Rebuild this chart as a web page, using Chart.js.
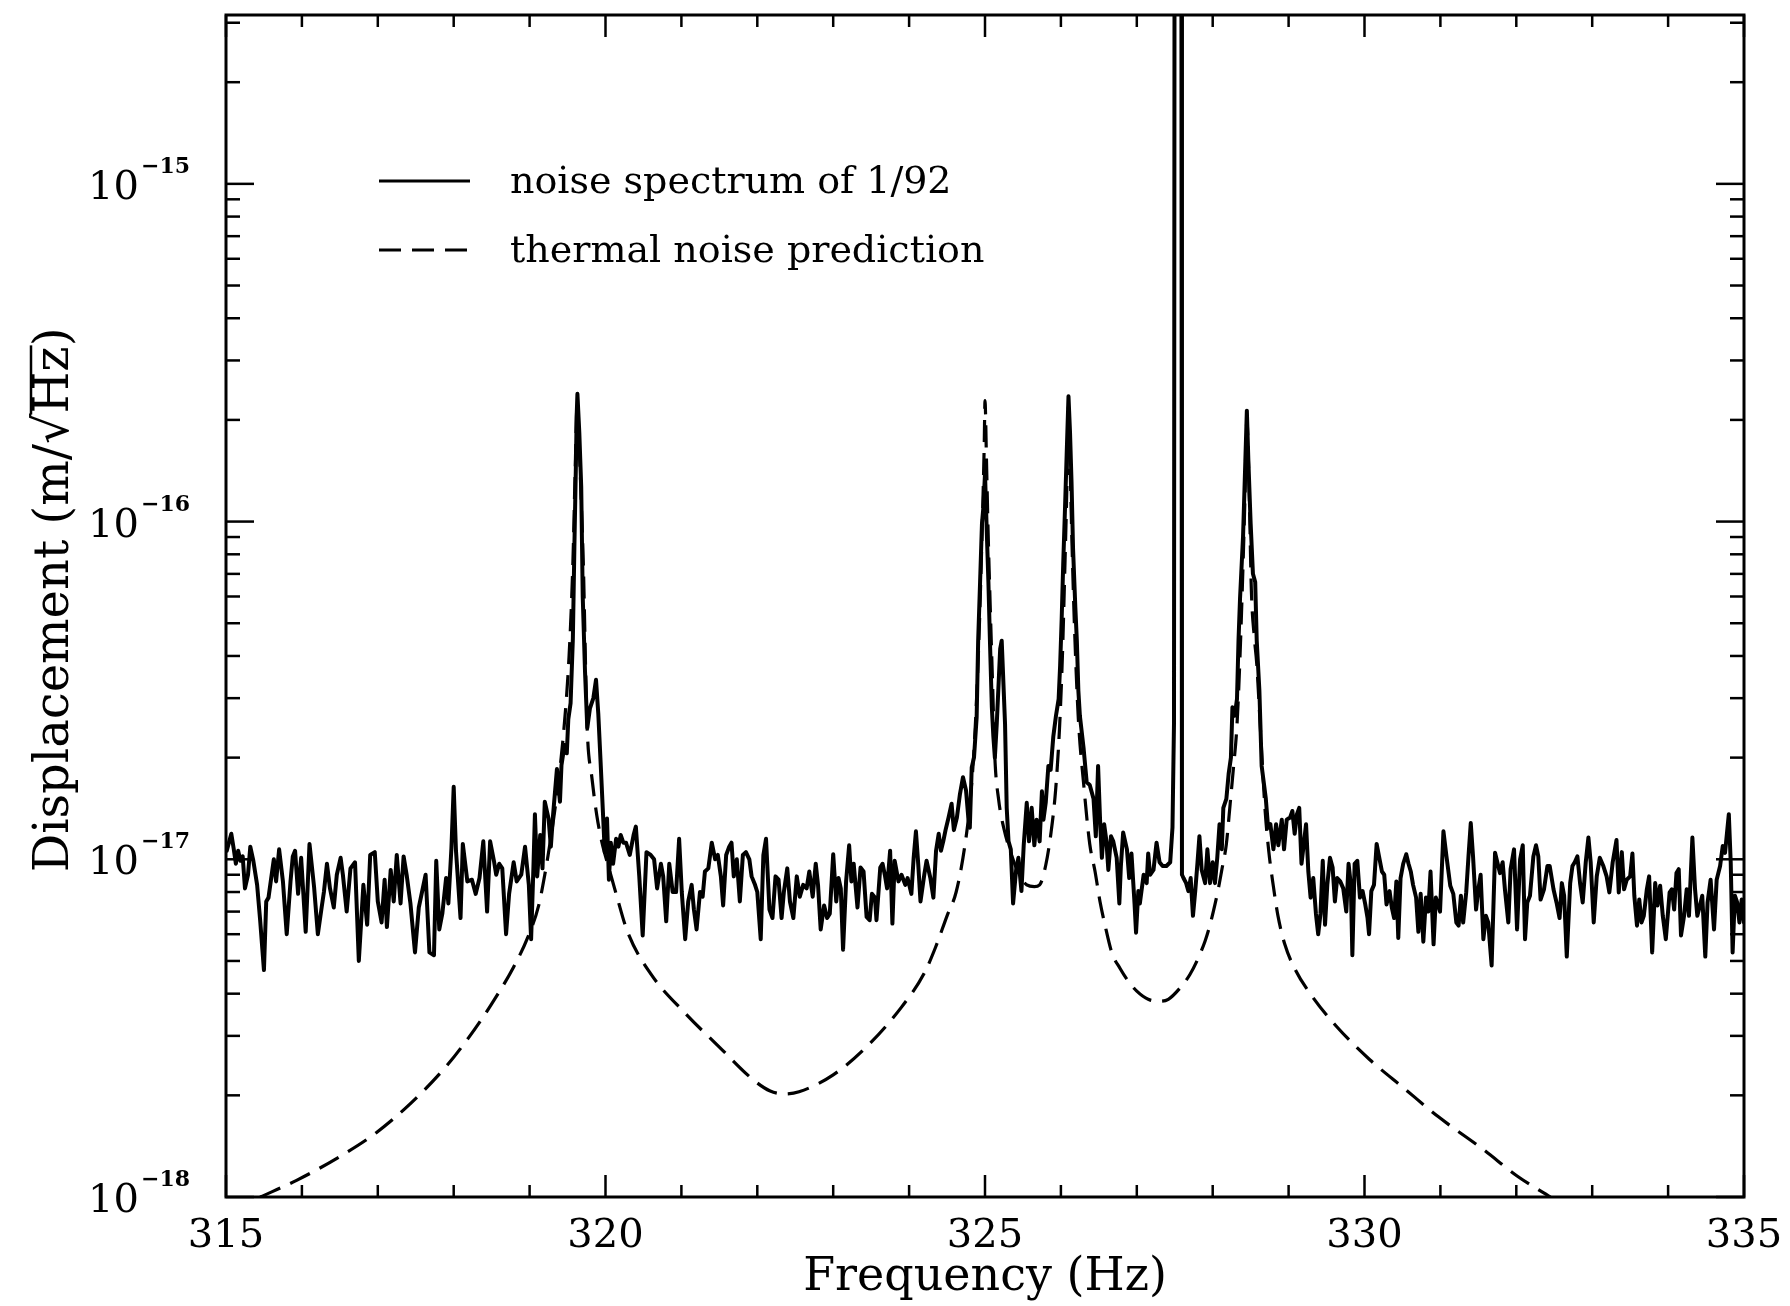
<!DOCTYPE html>
<html>
<head>
<meta charset="utf-8">
<title>Noise spectrum vs thermal noise prediction</title>
<script src="https://cdn.jsdelivr.net/npm/chart.js@4.4.0/dist/chart.umd.min.js"></script>
<style>
  html, body { margin: 0; padding: 0; background: #fff; }
  #wrap { width: 1790px; height: 1306px; }
</style>
</head>
<body>
<div id="wrap"><canvas id="spectrumChart" width="1790" height="1306"></canvas></div>
<script>
// amplitudes are stored in units of 1e-18 m/sqrt(Hz)
const AMP_UNIT = 1e-18;

// measured noise spectrum (solid line)
const noiseFreq = [
  315.00, 315.01, 315.07, 315.10, 315.13, 315.16, 315.19, 315.22, 315.25, 315.29,
  315.32, 315.36, 315.41, 315.45, 315.50, 315.53, 315.56, 315.63, 315.66, 315.70,
  315.75, 315.80, 315.85, 315.88, 315.91, 315.95, 315.99, 316.05, 316.10, 316.16,
  316.21, 316.26, 316.29, 316.33, 316.37, 316.42, 316.46, 316.51, 316.54, 316.59,
  316.64, 316.70, 316.75, 316.81, 316.86, 316.90, 316.96, 317.00, 317.05, 317.09,
  317.12, 317.17, 317.21, 317.25, 317.30, 317.34, 317.38, 317.43, 317.49, 317.54,
  317.63, 317.68, 317.74, 317.77, 317.81, 317.85, 317.90, 317.93, 317.97, 318.00,
  318.03, 318.09, 318.12, 318.18, 318.24, 318.29, 318.34, 318.39, 318.44, 318.48,
  318.53, 318.56, 318.60, 318.64, 318.69, 318.73, 318.79, 318.83, 318.89, 318.94,
  318.99, 319.02, 319.05, 319.07, 319.10, 319.14, 319.17, 319.20, 319.25, 319.28,
  319.31, 319.36, 319.40, 319.42, 319.46, 319.49, 319.51, 319.54, 319.57, 319.59,
  319.61, 319.62, 319.63, 319.655, 319.68, 319.70, 319.73, 319.76, 319.795, 319.84,
  319.875, 319.905, 319.935, 319.97, 319.99, 320.02, 320.045, 320.07, 320.10, 320.14,
  320.17, 320.20, 320.235, 320.27, 320.32, 320.37, 320.40, 320.445, 320.49, 320.54,
  320.595, 320.64, 320.68, 320.73, 320.76, 320.80, 320.84, 320.885, 320.93, 320.97,
  321.005, 321.05, 321.09, 321.135, 321.165, 321.20, 321.245, 321.28, 321.31, 321.355,
  321.40, 321.445, 321.48, 321.52, 321.55, 321.59, 321.63, 321.66, 321.69, 321.73,
  321.77, 321.81, 321.85, 321.895, 321.925, 321.97, 322.00, 322.045, 322.08, 322.115,
  322.16, 322.20, 322.24, 322.28, 322.32, 322.35, 322.395, 322.43, 322.475, 322.52,
  322.56, 322.605, 322.65, 322.685, 322.73, 322.77, 322.80, 322.835, 322.88, 322.92,
  322.955, 323.00, 323.04, 323.07, 323.10, 323.13, 323.17, 323.21, 323.24, 323.27,
  323.32, 323.36, 323.40, 323.44, 323.48, 323.51, 323.55, 323.57, 323.62, 323.65,
  323.68, 323.71, 323.75, 323.78, 323.81, 323.86, 323.90, 323.95, 323.98, 324.03,
  324.06, 324.09, 324.12, 324.15, 324.20, 324.23, 324.28, 324.32, 324.355, 324.39,
  324.42, 324.45, 324.48, 324.52, 324.56, 324.59, 324.63, 324.67, 324.71, 324.75,
  324.78, 324.80, 324.825, 324.855, 324.89, 324.91, 324.935, 324.96, 324.98, 325.00,
  325.02, 325.045, 325.065, 325.09, 325.11, 325.13, 325.155, 325.18, 325.20, 325.22,
  325.24, 325.264, 325.286, 325.31, 325.34, 325.37, 325.41, 325.44, 325.48, 325.51,
  325.55, 325.58, 325.615, 325.65, 325.68, 325.72, 325.75, 325.77, 325.80, 325.835,
  325.865, 325.90, 325.935, 325.97, 325.99, 326.01, 326.03, 326.055, 326.08, 326.10,
  326.12, 326.14, 326.16, 326.19, 326.21, 326.23, 326.25, 326.30, 326.34, 326.38,
  326.43, 326.46, 326.49, 326.52, 326.54, 326.57, 326.60, 326.625, 326.66, 326.69,
  326.735, 326.77, 326.79, 326.82, 326.87, 326.90, 326.93, 326.97, 326.99, 327.02,
  327.04, 327.09, 327.13, 327.15, 327.175, 327.22, 327.26, 327.30, 327.34, 327.39,
  327.44, 327.47, 327.49, 327.50, 327.585, 327.595, 327.615, 327.65, 327.68, 327.71,
  327.74, 327.77, 327.80, 327.825, 327.855, 327.90, 327.93, 327.965, 328.00, 328.03,
  328.06, 328.09, 328.12, 328.14, 328.18, 328.21, 328.24, 328.26, 328.29, 328.32,
  328.34, 328.36, 328.40, 328.43, 328.45, 328.47, 328.50, 328.53, 328.56, 328.58,
  328.615, 328.645, 328.68, 328.70, 328.73, 328.76, 328.80, 328.835, 328.865, 328.91,
  328.94, 328.975, 329.02, 329.05, 329.08, 329.11, 329.14, 329.17, 329.20, 329.23,
  329.26, 329.29, 329.325, 329.36, 329.39, 329.42, 329.45, 329.48, 329.51, 329.545,
  329.58, 329.61, 329.64, 329.68, 329.72, 329.76, 329.79, 329.82, 329.84, 329.87,
  329.905, 329.94, 329.975, 330.01, 330.04, 330.06, 330.09, 330.125, 330.16, 330.195,
  330.23, 330.26, 330.29, 330.33, 330.36, 330.39, 330.42, 330.445, 330.475, 330.51,
  330.55, 330.58, 330.61, 330.64, 330.68, 330.71, 330.74, 330.775, 330.81, 330.84,
  330.87, 330.91, 330.94, 330.97, 330.995, 331.04, 331.08, 331.13, 331.17, 331.21,
  331.24, 331.27, 331.30, 331.34, 331.37, 331.40, 331.43, 331.47, 331.50, 331.53,
  331.566, 331.60, 331.63, 331.675, 331.72, 331.75, 331.785, 331.82, 331.85, 331.895,
  331.925, 331.97, 332.01, 332.05, 332.085, 332.115, 332.145, 332.18, 332.225, 332.26,
  332.29, 332.32, 332.365, 332.41, 332.44, 332.49, 332.53, 332.57, 332.60, 332.63,
  332.665, 332.71, 332.74, 332.77, 332.805, 332.84, 332.875, 332.915, 332.95, 332.98,
  333.02, 333.06, 333.10, 333.147, 333.19, 333.226, 333.27, 333.32, 333.35, 333.39,
  333.42, 333.455, 333.50, 333.53, 333.555, 333.59, 333.62, 333.65, 333.68, 333.72,
  333.75, 333.79, 333.83, 333.86, 333.895, 333.93, 333.97, 334.02, 334.05, 334.08,
  334.11, 334.14, 334.17, 334.21, 334.245, 334.275, 334.32, 334.355, 334.385, 334.42,
  334.45, 334.49, 334.52, 334.56, 334.605, 334.64, 334.685, 334.72, 334.75, 334.80,
  334.825, 334.85, 334.88, 334.91, 334.94, 334.97, 335.00
];
const noiseAmp = [
  11.1, 10.6, 11.9, 10.8, 9.7, 10.6, 9.9, 10.2, 8.2, 9.0,
  10.9, 9.9, 8.4, 6.6, 4.7, 7.5, 7.7, 10.0, 8.6, 10.7,
  8.6, 6.0, 8.6, 10.2, 10.6, 7.9, 10.1, 6.1, 11.1, 8.3,
  6.0, 7.2, 8.0, 9.7, 8.2, 7.2, 9.0, 10.1, 9.0, 7.0,
  9.4, 9.8, 5.0, 8.4, 6.4, 10.3, 10.5, 7.5, 6.5, 8.7,
  6.3, 9.3, 7.5, 10.3, 7.4, 10.2, 9.0, 7.4, 5.3, 7.2,
  9.0, 5.3, 5.2, 9.9, 6.2, 6.9, 8.8, 7.4, 10.8, 16.4,
  10.6, 6.7, 11.1, 8.6, 8.7, 7.9, 8.8, 11.3, 7.0, 11.3,
  9.9, 9.0, 9.7, 9.4, 6.0, 7.9, 9.8, 8.6, 9.0, 10.9,
  8.4, 5.8, 9.4, 13.6, 8.9, 11.8, 9.4, 14.8, 13.2, 10.9,
  13.6, 18.5, 14.8, 19.0, 21.8, 20.6, 26, 29, 45, 84,
  147, 205, 239, 183, 127, 60, 36, 24.5, 28, 30,
  34, 27, 19.5, 13.2, 10.5, 13.2, 8.7, 11.2, 9.7, 11.5,
  10.9, 11.8, 11.2, 11.2, 10.3, 11.8, 12.5, 8.9, 5.95, 10.5,
  10.3, 10.0, 8.2, 9.7, 8.9, 6.55, 9.7, 8.0, 8.0, 11.5,
  8.0, 5.8, 7.5, 8.4, 7.1, 6.2, 8.0, 7.75, 9.2, 9.4,
  11.2, 10.0, 10.3, 8.9, 7.3, 10.3, 10.9, 11.2, 8.9, 10.0,
  7.5, 10.3, 10.5, 10.0, 8.9, 8.4, 8.0, 5.8, 10.3, 11.5,
  7.1, 6.7, 8.9, 8.7, 6.7, 8.0, 9.4, 7.5, 6.7, 8.9,
  7.75, 8.4, 8.2, 9.2, 7.75, 9.7, 8.4, 6.2, 7.3, 6.7,
  6.9, 10.35, 7.5, 8.8, 8.2, 5.4, 8.6, 11.0, 8.6, 9.7,
  7.2, 9.45, 9.2, 6.75, 6.6, 7.9, 7.7, 6.6, 9.45, 9.7,
  9.0, 8.2, 10.6, 6.45, 9.9, 8.6, 9.0, 8.4, 8.8, 7.9,
  10.1, 12.1, 9.7, 7.5, 9.0, 9.9, 8.8, 7.7, 10.6, 11.9,
  10.6, 11.3, 12.2, 13.3, 14.6, 12.2, 13.3, 15.6, 17.5, 16.0,
  13.3, 12.4, 18.7, 20.0, 26.3, 44.4, 66, 98.6, 111, 139,
  98.6, 66.2, 44.4, 28.2, 23.1, 20.0, 25.2, 33.4, 42.0, 44.4,
  34.4, 25.2, 14.2, 11.3, 10.7, 7.4, 9.3, 10.1, 8.05, 11.0,
  14.7, 11.3, 14.2, 11.0, 13.1, 11.3, 15.9, 13.1, 14.7, 18.9,
  18.4, 23.1, 26.6, 29.8, 37.5, 51.3, 74.2, 111, 169, 235,
  184, 131, 83.2, 55.8, 44.4, 31.6, 26.6, 21.2, 16.9, 16.6,
  15.1, 11.7, 18.9, 12.4, 10.1, 12.7, 11.3, 9.3, 11.7, 11.3,
  10.1, 7.4, 9.55, 12.0, 10.7, 8.8, 10.4, 7.4, 6.06, 8.05,
  7.4, 9.0, 8.5, 10.4, 9.0, 9.3, 11.2, 9.8, 9.55, 9.55,
  9.8, 12.4, 25.2, 40000, 40000, 9.0, 8.8, 8.5, 8.05, 8.8,
  6.8, 8.05, 9.8, 11.7, 9.3, 8.5, 10.7, 8.5, 9.8, 8.5,
  10.1, 12.7, 10.7, 14.2, 15.1, 17.9, 20.0, 28.2, 26.6, 29.8,
  44.4, 59.1, 90.6, 151, 213, 151, 98.6, 70.1, 66.2, 44.4,
  31.6, 18.9, 16.4, 15.1, 12.4, 12.7, 10.7, 12.7, 11.0, 13.1,
  10.7, 13.1, 13.3, 13.9, 11.9, 13.6, 14.2, 9.7, 11.1, 12.7,
  9.2, 7.7, 8.8, 6.9, 6.0, 6.9, 9.9, 6.4, 8.4, 10.1,
  9.45, 7.5, 8.8, 8.6, 8.2, 7.0, 9.7, 8.4, 5.2, 9.7,
  9.9, 7.7, 8.05, 7.35, 6.7, 6.0, 8.05, 8.4, 11.1, 10.1,
  9.2, 9.0, 7.35, 8.05, 7.2, 6.7, 8.6, 5.85, 8.8, 9.7,
  10.35, 9.7, 9.2, 8.4, 7.7, 6.1, 7.9, 5.7, 7.7, 7.0,
  9.2, 5.6, 7.7, 7.35, 7.0, 12.1, 10.2, 8.35, 7.9, 6.5,
  6.36, 7.8, 6.5, 7.98, 10.2, 12.8, 10.2, 7.1, 8.15, 9.0,
  5.8, 6.8, 6.5, 4.85, 10.45, 9.8, 9.1, 9.8, 8.15, 6.5,
  9.35, 10.7, 6.2, 10.0, 11.0, 5.8, 7.45, 7.8, 10.2, 11.0,
  10.2, 7.6, 8.15, 9.55, 9.55, 8.15, 7.45, 6.7, 8.5, 7.8,
  5.15, 8.5, 9.55, 9.8, 10.2, 8.5, 7.45, 9.8, 11.6, 9.8,
  6.5, 8.9, 10.1, 9.55, 8.9, 7.98, 9.8, 11.4, 7.98, 10.5,
  8.15, 8.7, 8.9, 10.4, 7.8, 6.36, 7.6, 6.5, 6.8, 8.15,
  8.9, 5.3, 8.5, 7.3, 8.35, 6.8, 5.8, 7.98, 8.15, 7.1,
  9.1, 9.35, 5.95, 6.8, 8.15, 6.8, 11.6, 8.15, 6.8, 7.3,
  7.8, 5.15, 7.45, 8.7, 6.2, 8.7, 9.55, 10.95, 10.45, 13.6,
  9.8, 5.3, 7.8, 7.45, 6.5, 7.6, 6.5
];

// thermal noise prediction (dashed line)
const thermalFreq = [
  315.45, 315.93, 316.53, 316.98, 317.44, 317.89, 318.19, 318.49, 318.79, 318.98,
  319.12, 319.20, 319.27, 319.35, 319.45, 319.52, 319.57, 319.60, 319.625, 319.65,
  319.68, 319.71, 319.74, 319.76, 319.82, 319.885, 319.95, 320.04, 320.14, 320.29,
  320.59, 321.05, 321.50, 321.95, 322.17, 322.36, 322.55, 323.00, 323.45, 323.90,
  324.20, 324.35, 324.50, 324.62, 324.73, 324.80, 324.86, 324.92, 324.96, 324.99,
  325.00, 325.02, 325.04, 325.07, 325.10, 325.13, 325.18, 325.25, 325.35, 325.45,
  325.55, 325.65, 325.72, 325.80, 325.87, 325.93, 325.98, 326.02, 326.05, 326.08,
  326.10, 326.12, 326.15, 326.18, 326.23, 326.30, 326.38, 326.45, 326.515, 326.58,
  326.67, 326.78, 326.89, 327.00, 327.15, 327.30, 327.415, 327.57, 327.70, 327.81,
  327.90, 327.965, 328.03, 328.075, 328.12, 328.18, 328.23, 328.27, 328.32, 328.36,
  328.40, 328.43, 328.45, 328.48, 328.51, 328.55, 328.58, 328.63, 328.69, 328.74,
  328.80, 328.86, 328.95, 329.09, 329.32, 329.62, 330.07, 330.52, 330.97, 331.57,
  332.02, 332.45
];
const thermalAmp = [
  1.0, 1.12, 1.33, 1.55, 1.9, 2.42, 2.95, 3.7, 4.8, 5.9,
  7.3, 9.0, 11.2, 15, 24, 40, 75, 140, 220, 175,
  115, 72, 35, 24, 17.5, 13.5, 11.3, 9.5, 7.9, 6.1,
  4.6, 3.5, 2.78, 2.22, 2.06, 2.02, 2.05, 2.3, 2.8, 3.65,
  4.6, 5.5, 6.8, 8.0, 10.8, 14.5, 22, 45, 90, 170,
  228, 150, 95, 55, 33, 20, 15, 12.3, 10.3, 9.0,
  8.4, 8.3, 8.4, 9.6, 12, 16, 24, 40, 70, 130,
  220, 150, 80, 48, 26, 16.7, 11.1, 9.2, 7.5, 6.4,
  5.3, 4.75, 4.35, 4.07, 3.85, 3.8, 3.85, 4.16, 4.56, 5.1,
  5.73, 6.4, 7.35, 8.2, 9.3, 11.1, 14.6, 18.3, 25, 40,
  75, 130, 200, 125, 62, 45, 38, 24, 14, 10.5,
  8.3, 6.8, 5.6, 4.7, 3.9, 3.22, 2.55, 2.1, 1.73, 1.38,
  1.15, 1.0
];

// axes
const X_MIN = 315;
const X_MAX = 335;
const xMajorTicks = [315, 320, 325, 330, 335];
const xTickLabels = ['315', '320', '325', '330', '335'];
const Y_MIN = 1e-18;
const Y_MAX = Math.pow(10, -14.5);
const yDecades = [-18, -17, -16, -15];
const yTickExponents = ['\u221218', '\u221217', '\u221216', '\u221215'];

const legendLabels = ['noise spectrum of 1/92', 'thermal noise prediction'];

const SERIF = '"DejaVu Serif", "Liberation Serif", serif';

function toPoints(freqs, amps) {
  return freqs.map((f, i) => ({ x: f, y: amps[i] * AMP_UNIT }));
}

function drawSegment(ctx, x1, y1, x2, y2) {
  ctx.beginPath();
  ctx.moveTo(x1, y1);
  ctx.lineTo(x2, y2);
  ctx.stroke();
}

// frame with inward ticks on all four sides, tick labels, titles and legend
const plotDecorations = {
  id: 'plotDecorations',
  afterDraw(chart) {
    const ctx = chart.ctx;
    const a = chart.chartArea;
    const xs = chart.scales.x;
    const ys = chart.scales.y;

    ctx.save();
    ctx.strokeStyle = '#000';
    ctx.fillStyle = '#000';

    ctx.lineWidth = 3;
    ctx.strokeRect(a.left, a.top, a.right - a.left, a.bottom - a.top);

    // x ticks every 1 Hz, longer every 5 Hz
    ctx.lineWidth = 2.5;
    for (let f = X_MIN; f <= X_MAX; f += 1) {
      const px = xs.getPixelForValue(f);
      const len = xMajorTicks.includes(f) ? 22 : 12;
      drawSegment(ctx, px, a.bottom, px, a.bottom - len);
      drawSegment(ctx, px, a.top, px, a.top + len);
    }

    // y ticks: decades long, 2..9 short
    yDecades.forEach(e => {
      for (let m = 1; m <= 9; m++) {
        const v = m * Math.pow(10, e);
        if (v > Y_MAX) break;
        const py = ys.getPixelForValue(v);
        const len = m === 1 ? 28 : 14;
        drawSegment(ctx, a.left, py, a.left + len, py);
        drawSegment(ctx, a.right, py, a.right - len, py);
      }
    });

    // x tick labels
    ctx.font = '40px ' + SERIF;
    ctx.textAlign = 'center';
    ctx.textBaseline = 'alphabetic';
    xMajorTicks.forEach((f, i) => {
      ctx.fillText(xTickLabels[i], xs.getPixelForValue(f), a.bottom + 50);
    });

    // y tick labels 10^-n
    ctx.textAlign = 'left';
    yDecades.forEach((e, i) => {
      const py = ys.getPixelForValue(Math.pow(10, e));
      const right = a.left - 36;
      ctx.font = 'bold 22px ' + SERIF;
      const wSup = ctx.measureText(yTickExponents[i]).width;
      ctx.fillText(yTickExponents[i], right - wSup, py - 11);
      ctx.font = '40px ' + SERIF;
      const wBase = ctx.measureText('10').width;
      ctx.fillText('10', right - wSup - 2 - wBase, py + 15);
    });

    // axis titles
    ctx.font = '46px ' + SERIF;
    ctx.textAlign = 'center';
    ctx.fillText('Frequency (Hz)', (a.left + a.right) / 2, a.bottom + 93);

    ctx.save();
    ctx.font = '48px ' + SERIF;
    ctx.translate(68, (a.top + a.bottom) / 2 - 6);
    ctx.rotate(-Math.PI / 2);
    const pre = 'Displacement (m/\u221A';
    const hz = 'Hz';
    const post = ')';
    const wPre = ctx.measureText(pre).width;
    const wHz = ctx.measureText(hz).width;
    const wAll = ctx.measureText(pre + hz + post).width;
    const sx = -wAll / 2;
    ctx.textAlign = 'left';
    ctx.fillText(pre + hz + post, sx, 0);
    ctx.lineWidth = 2.5;
    drawSegment(ctx, sx + wPre - 1, -37, sx + wPre + wHz + 1, -37);
    ctx.restore();

    // legend
    const rows = [181, 250];
    ctx.font = '38px ' + SERIF;
    ctx.textAlign = 'left';
    rows.forEach((ry, i) => {
      ctx.lineWidth = 3;
      ctx.setLineDash(i === 0 ? [] : [22, 11]);
      drawSegment(ctx, 379, ry, 470, ry);
      ctx.setLineDash([]);
      ctx.fillText(legendLabels[i], 510, ry + 12);
    });

    ctx.restore();
  }
};

const ctx = document.getElementById('spectrumChart').getContext('2d');

new Chart(ctx, {
  type: 'line',
  data: {
    datasets: [
      {
        label: legendLabels[0],
        data: toPoints(noiseFreq, noiseAmp),
        borderColor: '#000',
        borderWidth: 4,
        borderJoinStyle: 'round',
        borderCapStyle: 'round',
        pointRadius: 0,
        tension: 0,
        fill: false
      },
      {
        label: legendLabels[1],
        data: toPoints(thermalFreq, thermalAmp),
        borderColor: '#000',
        borderWidth: 3.2,
        borderDash: [22, 11],
        cubicInterpolationMode: 'monotone',
        pointRadius: 0,
        fill: false
      }
    ]
  },
  options: {
    responsive: false,
    animation: false,
    devicePixelRatio: 1,
    layout: {
      padding: { left: 226, right: 46, top: 15, bottom: 109 }
    },
    scales: {
      x: { type: 'linear', min: X_MIN, max: X_MAX, display: false },
      y: { type: 'logarithmic', min: Y_MIN, max: Y_MAX, display: false }
    },
    plugins: {
      legend: { display: false },
      tooltip: { enabled: false }
    }
  },
  plugins: [plotDecorations]
});
</script>
</body>
</html>
